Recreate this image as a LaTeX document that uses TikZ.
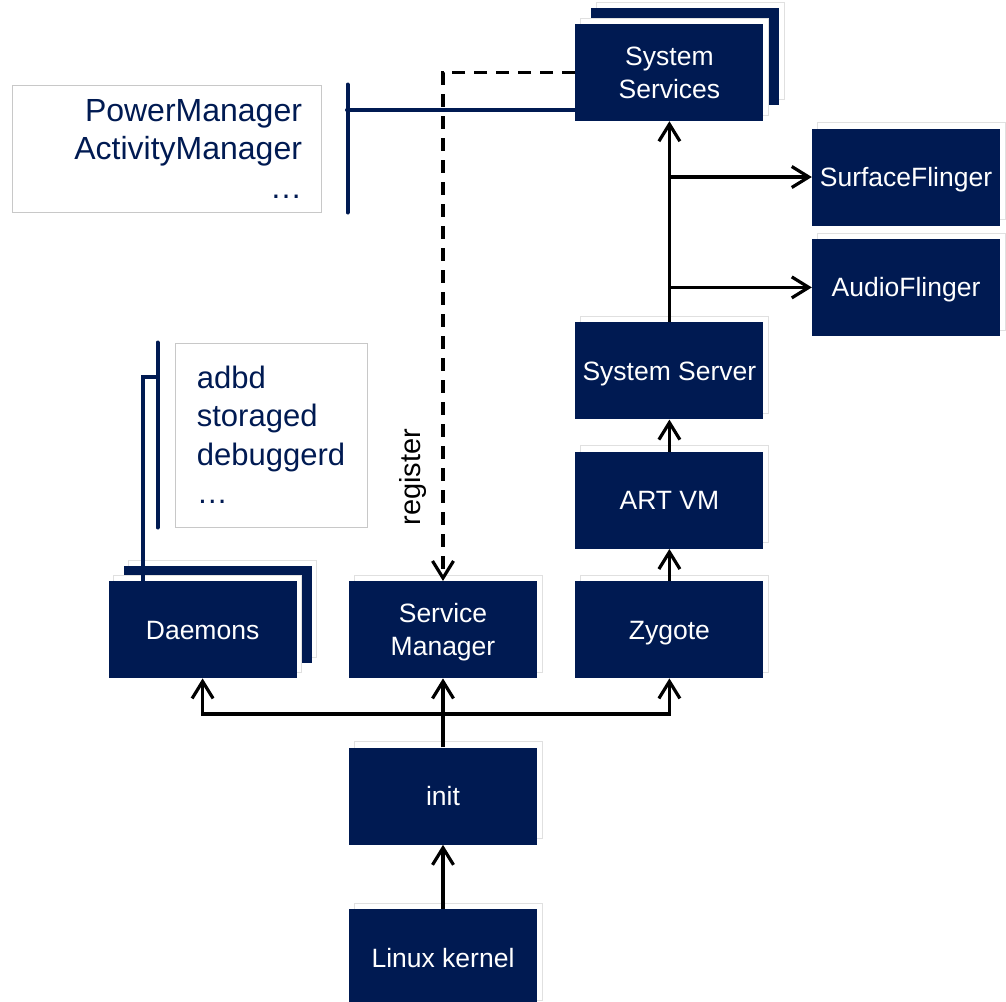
\documentclass[tikz,border=0pt]{standalone}
\usepackage{fontspec}
\setmainfont{Liberation Sans}
\usetikzlibrary{positioning,arrows.meta,shadows,backgrounds}
\definecolor{navy}{RGB}{0,26,82}
\definecolor{listgray}{RGB}{200,200,200}
\begin{document}
\begin{tikzpicture}[x=1pt, y=-1pt, node distance={32pt},
    >={Straight Barb[length=17pt,width=21pt,line width=3.2pt]},
    main/.style = {fill=navy, text=white, minimum width=188pt, minimum height=97pt, inner sep=0pt, align=center,
      font=\fontsize{26.5}{32.5}\selectfont, text height=19pt, text depth=0pt,
      drop shadow={shadow xshift=5pt, shadow yshift=6pt, fill=white, draw=black!12, line width=0.8pt, opacity=1}},
    twoline/.style = {text height=51.5pt},
    list/.style = {draw=listgray, line width=1pt, text=navy, inner sep=0pt, font=\fontsize{31}{38.5}\selectfont},
    flow/.style = {line width=3.2pt, ->},
    bracket/.style = {draw=navy, line width=4pt, line cap=round}]
    \useasboundingbox (0,0) rectangle (1006,1001);
    \node[main] (kernel) at (443,957.5) {Linux kernel};
    \node[main] (init) [above=64pt of kernel] {init};
    \node[main, twoline] (sm) [above=69pt of init] {Service\\Manager};
    \node[main] (daemons) [left=52pt of sm] {Daemons};
    \node[main] (zygote) [right=38pt of sm] {Zygote};
    \node[main] (art) [above=of zygote] {ART VM};
    \node[main] (sysserver) [above=of art] {System Server};
    \node[main, twoline] (ss) [above=201pt of sysserver] {System\\Services};
    \node[main] (surface) at (906,177) {SurfaceFlinger};
    \node[main] (audio) [below=13pt of surface] {AudioFlinger};
    % stacked copies behind
    \begin{scope}[on background layer]
        \node[main] (ssback) at ([shift={(16,-16)}]ss.center) {};
        \node[main] (daemonsback) at ([shift={(15,-15)}]daemons.center) {};
    \end{scope}
    % lists
    \node[list, minimum width=309pt, minimum height=127pt, text width=271pt, align=right, font=\fontsize{32}{38.5}\selectfont] (pmlist) at (166.5,148.5) {PowerManager\\ActivityManager\\\ldots};
    \node[list, minimum width=192pt, minimum height=184pt, align=left] (dmlist) at (271,435) {adbd\\storaged\\debuggerd\\\ldots};
    % brackets
    \coordinate (pmjoin) at (347,110);
    \coordinate (dmjoin) at (158,377);
    \draw[bracket] ([xshift=26pt]pmlist.north east) -- ([xshift=26pt]pmlist.south east);
    \draw[bracket] (pmjoin) -- (pmjoin -| ss.west);
    \draw[bracket] ([xshift=-17pt]dmlist.north west) -- ([xshift=-17pt]dmlist.south west);
    \draw[bracket, line cap=butt] (dmjoin) -| ([xshift=-60pt]daemons.north);
    % flows
    \coordinate (bus) at (443,714);
    \draw[flow] (kernel) -- (init);
    \draw[flow] (init) -- (sm);
    \draw[flow, <->] (daemons.south) |- (bus) -| (zygote.south);
    \draw[flow] (zygote) -- (art);
    \draw[flow] (art) -- (sysserver);
    \draw[flow] (sysserver) -- (ss);
    \draw[flow] (sysserver.north |- surface.west) -- (surface.west);
    \draw[flow] (sysserver.north |- audio.west) -- (audio.west);
    \draw[flow, dash pattern=on 13pt off 9pt] (ss.west) -| (sm.north);
    \node[rotate=90, font=\fontsize{29}{29}\selectfont] (reglabel) at (413,477) {register};
\end{tikzpicture}
\end{document}
